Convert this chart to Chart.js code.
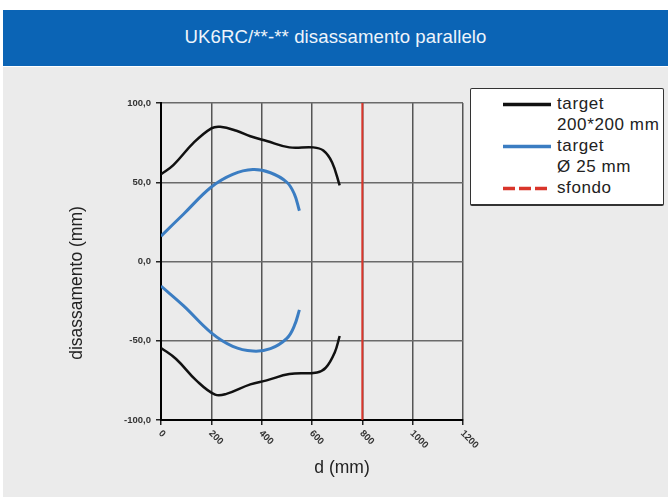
<!DOCTYPE html>
<html>
<head>
<meta charset="utf-8">
<script src="https://cdn.jsdelivr.net/npm/chart.js@4"></script>
<style>
  html, body { margin: 0; padding: 0; background: #fff; }
  #wrap { position: relative; width: 668px; height: 497px; overflow: hidden; }
  #bar {
    position: absolute; left: 3px; top: 10px; width: 665px; height: 56px;
    background: #0b64b5; color: #eef4fb; text-align: center;
    font: 18.6px "Liberation Sans", Arial, sans-serif; line-height: 54px; letter-spacing: 0.1px;
  }
  #bg { position: absolute; left: 3px; top: 67px; width: 665px; height: 430px; background: #ebebeb; }
  canvas { position: absolute; left: 0; top: 0; }
  #legend {
    position: absolute; left: 470px; top: 88px; width: 194px; height: 118px;
    background: #fff; border: 1.5px solid #333; border-bottom-width: 2.5px; border-radius: 2px;
    font: 17px "Liberation Sans", Arial, sans-serif; color: #222; padding-top: 4px; box-sizing: border-box;
  }
  .item { position: relative; padding-left: 86px; line-height: 21px; letter-spacing: 0.6px; }
  .item svg { position: absolute; left: 32px; top: 9px; }
</style>
</head>
<body>
<div id="wrap">
  <div id="bar">UK6RC/**-** disassamento parallelo</div>
  <div id="bg"></div>
  <canvas id="chart" width="668" height="497"></canvas>
  <div id="legend"></div>
</div>
<script>
// dati (d in mm, disassamento in mm)
const blackX = [0, 50, 130, 200, 235, 300, 355, 420, 510, 605, 645, 680, 710];
const blackUp = [55, 61, 75, 84, 85, 82.5, 79, 76, 72, 72, 70, 62.5, 48];
const blackLowX = [0, 60, 140, 215, 260, 355, 420, 510, 620, 655, 690, 710];
const blackLow = [-54.5, -61.5, -75, -84, -83.5, -77.5, -75, -71, -70, -67, -57.5, -47];
const blueX = [0, 90, 200, 285, 365, 435, 500, 530, 550];
const blueUp = [16, 30, 47, 55, 58, 56, 50, 42.5, 32];
const blueLow = [-15.5, -28, -45, -53.5, -56.5, -55, -48.5, -40.5, -30.5];
const sfondoX = [800, 800];
const sfondoY = [-100, 100];

const xTickValues = [0, 200, 400, 600, 800, 1000, 1200];
const xTickLabels = ["0", "200", "400", "600", "800", "1000", "1200"];
const yTickValues = [-100, -50, 0, 50, 100];
const yTickLabels = ["-100,0", "-50,0", "0,0", "50,0", "100,0"];

const seriesNames = [["target", "200*200 mm"], ["target", "Ø 25 mm"], ["sfondo"]];
const seriesColors = ["#111111", "#3b7dc2", "#d9352a"];
const xTitle = "d (mm)";
const yTitle = "disassamento (mm)";

const toPoints = (xs, ys) => xs.map((x, i) => ({ x: x, y: ys[i] }));

// etichette asse x ruotate (verso il basso a destra)
const rotatedXTicks = {
  id: "rotatedXTicks",
  afterDraw(chart) {
    const ctx = chart.ctx;
    const x = chart.scales.x;
    ctx.save();
    ctx.font = 'bold 9.5px "Liberation Sans", Arial, sans-serif';
    ctx.fillStyle = "#333";
    ctx.textAlign = "left";
    ctx.textBaseline = "middle";
    xTickValues.forEach((v, i) => {
      ctx.save();
      ctx.translate(x.getPixelForValue(v) - 1, x.top + 12);
      ctx.rotate(Math.PI / 4);
      ctx.fillText(xTickLabels[i], 0, 0);
      ctx.restore();
    });
    ctx.restore();
  },
};

// titoli degli assi
const axisTitles = {
  id: "axisTitles",
  afterDraw(chart) {
    const ctx = chart.ctx;
    ctx.save();
    ctx.font = '17.5px "Liberation Sans", Arial, sans-serif';
    ctx.fillStyle = "#222";
    ctx.textAlign = "center";
    ctx.textBaseline = "middle";
    ctx.fillText(xTitle, 342, 468);
    ctx.translate(77, 283);
    ctx.rotate(-Math.PI / 2);
    ctx.fillText(yTitle, 0, 0);
    ctx.restore();
  },
};

const lineDs = (data, color, width) => ({
  data: data,
  borderColor: color,
  borderWidth: width,
  showLine: true,
  pointRadius: 0,
  tension: 0.4,
  fill: false,
});

const ctx = document.getElementById("chart").getContext("2d");
new Chart(ctx, {
  type: "scatter",
  data: {
    datasets: [
      Object.assign(lineDs(toPoints(sfondoX, sfondoY), seriesColors[2], 2), { tension: 0 }),
      lineDs(toPoints(blackX, blackUp), seriesColors[0], 2.5),
      lineDs(toPoints(blackLowX, blackLow), seriesColors[0], 2.5),
      lineDs(toPoints(blueX, blueUp), seriesColors[1], 3),
      lineDs(toPoints(blueX, blueLow), seriesColors[1], 3),
    ],
  },
  options: {
    responsive: false,
    animation: false,
    layout: { padding: { top: 103, right: 205, left: 0, bottom: 0 } },
    plugins: {
      legend: { display: false },
      tooltip: { enabled: false },
    },
    scales: {
      x: {
        type: "linear",
        min: 0,
        max: 1200,
        afterBuildTicks: (scale) => {
          scale.ticks = xTickValues.map((v) => ({ value: v }));
        },
        ticks: { display: false },
        grid: { color: "#555", lineWidth: 1.5, tickLength: 5, tickColor: "#222" },
        border: { color: "#000", width: 2 },
        afterFit: (scale) => {
          scale.height = 77;
        },
      },
      y: {
        min: -100,
        max: 100,
        afterBuildTicks: (scale) => {
          scale.ticks = yTickValues.map((v) => ({ value: v }));
        },
        ticks: {
          padding: 5,
          color: "#333",
          font: { family: '"Liberation Sans", Arial, sans-serif', size: 9.5, weight: "bold" },
          callback: (value) => yTickLabels[yTickValues.indexOf(value)],
        },
        grid: { color: "#6a6a6a", lineWidth: 1.5, tickLength: 5, tickColor: "#222" },
        border: { color: "#000", width: 2 },
        afterFit: (scale) => {
          scale.width = 161;
        },
      },
    },
  },
  plugins: [rotatedXTicks, axisTitles],
});

// legenda in HTML
const legend = document.getElementById("legend");
seriesNames.forEach((lines, i) => {
  const item = document.createElement("div");
  item.className = "item";
  const dash = i === 2 ? ' stroke-dasharray="12 4"' : "";
  item.innerHTML =
    '<svg width="48" height="5"><line x1="0" y1="2.5" x2="48" y2="2.5" stroke="' +
    seriesColors[i] + '" stroke-width="3.5"' + dash + "/></svg>" + lines.join("<br>");
  legend.appendChild(item);
});
</script>
</body>
</html>
